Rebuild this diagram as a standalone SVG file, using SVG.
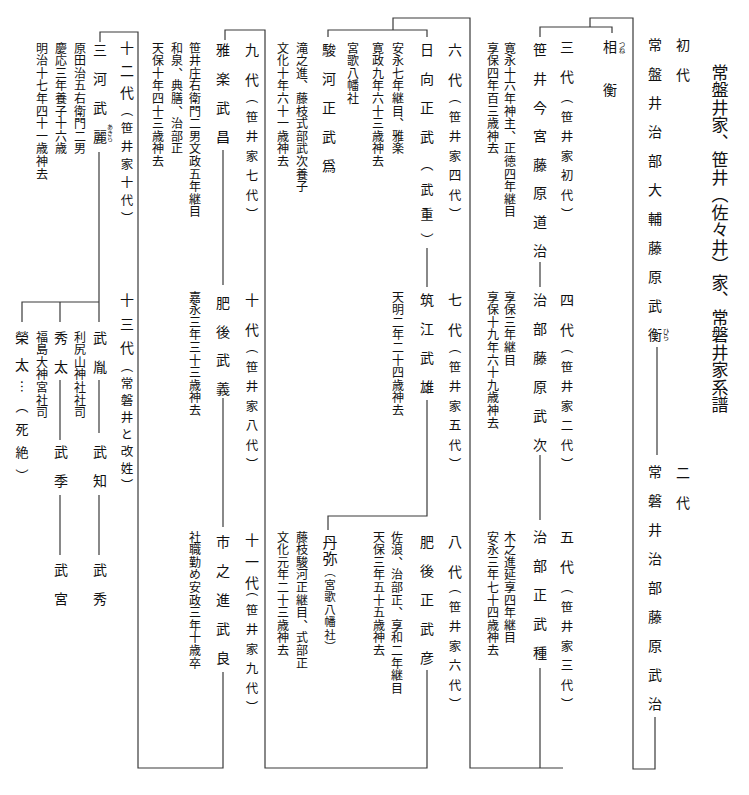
<svg xmlns="http://www.w3.org/2000/svg" width="749" height="795" viewBox="0 0 749 795">
<style>
text{font-family:"Noto Sans CJK JP","Noto Sans CJK SC",sans-serif;writing-mode:vertical-rl;fill:#111}
.title{font-size:17px;letter-spacing:0.5px}
.nm{font-size:14px;letter-spacing:15px}
.gen{font-size:14px;letter-spacing:16px}
.par{font-size:12.5px;letter-spacing:7px}
.note{font-size:12px;letter-spacing:0.6px}
.ruby{font-size:6.5px}
.ln{fill:none;stroke:#3a3a3a;stroke-width:1.2}
</style>
<rect width="749" height="795" fill="#fff"/>
<g id="title"><text class="title" x="720" y="64">常盤井家、笹井（佐々井）家、常磐井家系譜</text></g>

<g id="n1"><text class="gen" x="683" y="38">初代</text><text class="nm" x="655" y="38">常盤井治部大輔藤原武衡</text><text class="ruby" x="666" y="328">ひら</text></g>
<g id="n2"><text class="gen" x="683" y="466">二代</text><text class="nm" x="655" y="465">常磐井治部藤原武治</text></g>
<g id="n-aihira"><text class="nm" x="610" y="40" style="letter-spacing:29px">相衡</text><text class="ruby" x="622" y="41">つね</text></g>

<g id="n3"><text class="gen" x="567" y="40">三代</text><text class="par" x="567" y="91">（笹井家初代）</text><text class="nm" x="540" y="43" style="letter-spacing:14.6px">笹井今宮藤原道治</text><text class="note" x="510" y="42">寛永十六年神主、正徳四年継目</text><text class="note" x="493" y="42">享保四年百三歳神去</text></g>
<g id="n4"><text class="gen" x="567" y="293">四代</text><text class="par" x="567" y="341">（笹井家二代）</text><text class="nm" x="540" y="293">治部藤原武次</text><text class="note" x="510" y="291">享保三年継目</text><text class="note" x="493" y="291">享保十九年六十九歳神去</text></g>
<g id="n5"><text class="gen" x="567" y="530">五代</text><text class="par" x="567" y="581">（笹井家三代）</text><text class="nm" x="540" y="530">治部正武種</text><text class="note" x="510" y="531">木之進延享四年継目</text><text class="note" x="493" y="531">安永三年七十四歳神去</text></g>

<g id="n6"><text class="gen" x="455" y="43">六代</text><text class="par" x="455" y="91">（笹井家四代）</text><text class="nm" x="427" y="43">日向正武</text><text x="427" y="158" style="font-size:13px;letter-spacing:12px">（武重）</text><text class="note" x="398" y="42">安永七年継目、雅楽</text><text class="note" x="378" y="42">寛政九年六十三歳神去</text></g>
<g id="n-takeshi"><text class="note" x="353" y="42">宮歌八幡社</text><text class="nm" x="329" y="43">駿河正武爲</text><text class="note" x="302" y="42">滝之進、藤枝式部武次養子</text><text class="note" x="283" y="42">文化十年六十一歳神去</text></g>
<g id="n7"><text class="gen" x="455" y="293">七代</text><text class="par" x="455" y="341">（笹井家五代）</text><text class="nm" x="427" y="293">筑江武雄</text><text class="note" x="398" y="291">天明二年二十四歳神去</text></g>
<g id="n8"><text class="gen" x="455" y="535">八代</text><text class="par" x="455" y="581">（笹井家六代）</text><text class="nm" x="427" y="535">肥後正武彦</text><text class="note" x="397" y="531">佐浪、治部正、享和二年継目</text><text class="note" x="379" y="531">天保三年五十五歳神去</text></g>
<g id="n-tanya"><text x="330" y="535" style="font-size:15px;letter-spacing:1px">丹弥</text><text x="330" y="566" style="font-size:11.5px;letter-spacing:1px">（宮歌八幡社）</text><text class="note" x="302" y="531">藤枝駿河正継目、式部正</text><text class="note" x="283" y="531">文化元年二十三歳神去</text></g>

<g id="n9"><text class="gen" x="252" y="43">九代</text><text class="par" x="252" y="91">（笹井家七代）</text><text class="nm" x="223" y="43">雅楽武昌</text><text class="note" x="195" y="42">笹井庄右衛門二男文政五年継目</text><text class="note" x="177" y="42">和泉、典膳、治部正</text><text class="note" x="158" y="42">天保十年四十三歳神去</text></g>
<g id="n10"><text class="gen" x="252" y="293">十代</text><text class="par" x="252" y="341">（笹井家八代）</text><text class="nm" x="223" y="296" style="letter-spacing:14.5px">肥後武義</text><text class="note" x="195" y="291">嘉永三年三十三歳神去</text></g>
<g id="n11"><text x="252" y="533" style="font-size:14px;letter-spacing:7.5px">十一代</text><text class="par" x="252" y="584">（笹井家九代）</text><text class="nm" x="223" y="535">市之進武良</text><text class="note" x="195" y="531">社職勤め安政三年十歳卒</text></g>

<g id="n12"><text x="127" y="41" style="font-size:14px;letter-spacing:8.5px">十二代</text><text x="127" y="104" style="font-size:12.5px;letter-spacing:5.5px">（笹井家十代）</text><text class="nm" x="100" y="43">三河武麗</text><text class="ruby" x="110" y="124" style="font-size:6px">あきら</text><text class="note" x="80" y="42">原田治五右衛門二男</text><text class="note" x="61" y="42">慶応三年養子十六歳</text><text class="note" x="42" y="42">明治十七年四十一歳神去</text></g>
<g id="n13"><text x="127" y="293" style="font-size:14px;letter-spacing:10px">十三代</text><text x="127" y="360" style="font-size:12.5px;letter-spacing:4.5px">（常磐井と改姓）</text></g>
<g id="n-taketane"><text class="nm" x="100" y="331">武胤</text><text class="note" x="80" y="331">利尻山神社社司</text></g>
<g id="n-taketomo"><text class="nm" x="100" y="445">武知</text></g>
<g id="n-takehide"><text class="nm" x="100" y="563">武秀</text></g>
<g id="n-hideta"><text class="nm" x="61" y="331">秀太</text><text class="note" x="42" y="331">福島大神宮社司</text></g>
<g id="n-takesue"><text class="nm" x="61" y="445">武季</text></g>
<g id="n-takemiya"><text class="nm" x="61" y="563">武宮</text></g>
<g id="n-eita"><text class="nm" x="22" y="331" style="letter-spacing:13px">榮太</text><text x="22" y="380" style="font-size:13px">…</text><text x="22" y="400" style="font-size:13px;letter-spacing:10px">（死絶）</text></g>

<g id="connectors" class="ln">
<path d="M657,347 V455"/>
<path d="M655,717 V769 H633 V18 H590 V27"/>
<path d="M540,37 V27 H612 V33"/>
<path d="M540,262 V287"/>
<path d="M540,455 V520"/>
<path d="M540,668 V768"/>
<path d="M563,768 H470 V18 H393 V30"/>
<path d="M328,37 V30 H427 V37"/>
<path d="M427,248 V287"/>
<path d="M427,400 V516 H328 V530"/>
<path d="M427,670 V768 H265 V30 H225 V40"/>
<path d="M223,150 V285"/>
<path d="M223,398 V527"/>
<path d="M223,672 V768 H138 V32 H100 V42"/>
<path d="M99,152 V322"/>
<path d="M22,322 V302 H99"/>
<path d="M60,302 V322"/>
<path d="M99,380 V433"/>
<path d="M99,495 V555"/>
<path d="M60,380 V440"/>
<path d="M60,495 V555"/>
</g>
</svg>
